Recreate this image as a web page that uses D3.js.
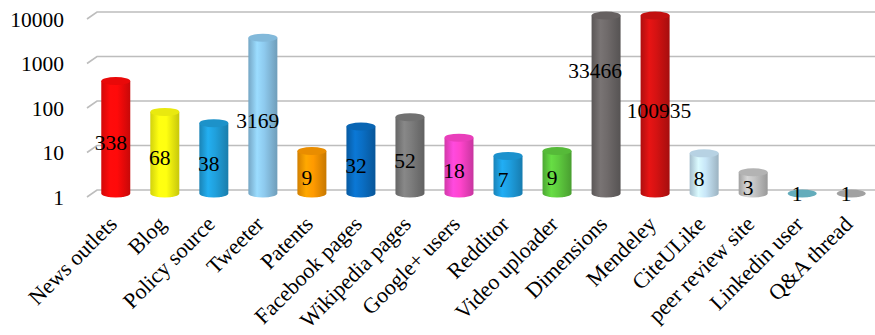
<!DOCTYPE html>
<meta charset="utf-8">
<style>
body { margin: 0; background: #fff; }
text { font-family: "Liberation Serif", "Times New Roman", serif; fill: #000; }
.grid path { stroke: #bdbdbd; stroke-width: 1.6px; fill: none; }
</style>
<body>
<script src="https://cdnjs.cloudflare.com/ajax/libs/d3/7.8.5/d3.min.js"></script>
<script>

var categories = ["News outlets", "Blog", "Policy source", "Tweeter", "Patents",
  "Facebook pages", "Wikipedia pages", "Google+ users", "Redditor", "Video uploader",
  "Dimensions", "Mendeley", "CiteULike", "peer review site", "Linkedin user", "Q&A thread"];

var values = [338, 68, 38, 3169, 9, 32, 52, 18, 7, 9, 33466, 100935, 8, 3, 1, 1];

var colors = ["#ff0a0a", "#ffff10", "#20a0dc", "#8ecaee", "#ff9a00", "#0a6ec4",
  "#7c7c7c", "#ff44cc", "#1e9fe0", "#5ecb3e", "#6f6a6a", "#d41212",
  "#c8e6f8", "#c4c4c4", "#6cbccc", "#b0b0b0"];

var yTicks = [1, 10, 100, 1000, 10000];

var width = 875, height = 335,
    depthX = 10, depthY = 7,
    rx = 14.5, ry = 4;

var svg = d3.select("body").append("svg")
    .attr("width", width)
    .attr("height", height);

var x = d3.scaleBand()
    .domain(categories)
    .range([91.5, 875.5])
    .paddingInner(0.41)
    .paddingOuter(0.2);

// back wall scale
var y = d3.scaleLog()
    .domain([1, 10000])
    .range([190, 12]);

var yMax = y.domain()[1];

// bars sit a little in front of the wall
function yb(v) { return y(Math.min(v, yMax)) + 3.5; }

var grid = svg.append("g").attr("class", "grid");

grid.selectAll("path")
    .data(yTicks)
  .enter().append("path")
    .attr("d", function(d) {
      return "M" + (97 - depthX) + "," + (y(d) + depthY) + "L97," + y(d) + "L" + width + "," + y(d);
    });

svg.append("g").selectAll("text")
    .data(yTicks)
  .enter().append("text")
    .attr("x", 64)
    .attr("y", function(d) { return y(d) + depthY; })
    .attr("dy", "0.35em")
    .attr("text-anchor", "end")
    .style("font-size", "21.5px")
    .text(function(d) { return d; });

var defs = svg.append("defs");

categories.forEach(function(c, i) {
  var base = d3.color(colors[i]);
  var g = defs.append("linearGradient")
      .attr("id", "cyl" + i)
      .attr("x1", "0%").attr("x2", "100%");
  [[0, base.darker(0.55)], [0.3, base.brighter(0.25)], [0.55, base], [1, base.darker(0.7)]]
    .forEach(function(s) {
      g.append("stop").attr("offset", s[0]).attr("stop-color", s[1]);
    });
});

var bars = svg.append("g").selectAll("g")
    .data(categories)
  .enter().append("g");

bars.each(function(c, i) {
  var g = d3.select(this),
      cx = x(c) + x.bandwidth() / 2,
      top = yb(values[i]),
      bot = yb(1),
      l = cx - rx, r = cx + rx;
  if (top < bot - 0.5) {
    g.append("path")
        .attr("d", "M" + l + "," + top + "L" + l + "," + bot +
          "A" + rx + "," + ry + " 0 0 0 " + r + "," + bot +
          "L" + r + "," + top + "Z")
        .attr("fill", "url(#cyl" + i + ")");
  }
  g.append("ellipse")
      .attr("cx", cx)
      .attr("cy", top)
      .attr("rx", rx)
      .attr("ry", ry)
      .attr("fill", d3.color(colors[i]).darker(0.25));
});

// value labels; bars running past the axis get staggered labels
var over = 0;
var labelPos = values.map(function(v) {
  if (v > yMax) {
    var k = over++;
    return { y: y(yMax / Math.pow(10, k + 1)) + 14 - k * 5, dx: k ? 4 : -11 };
  }
  return { y: (yb(v) + yb(1)) / 2 + (v > 1 ? 5 : 0), dx: -5 };
});

svg.append("g").selectAll("text")
    .data(categories)
  .enter().append("text")
    .attr("x", function(c, i) { return x(c) + x.bandwidth() / 2 + labelPos[i].dx; })
    .attr("y", function(c, i) { return labelPos[i].y; })
    .attr("dy", "0.35em")
    .attr("text-anchor", "middle")
    .style("font-size", "21.5px")
    .text(function(c, i) { return values[i]; });

// category labels
svg.append("g").selectAll("text")
    .data(categories)
  .enter().append("text")
    .attr("transform", function(c) {
      return "translate(" + (x(c) + x.bandwidth() / 2 - 3) + ",220) rotate(-45)";
    })
    .attr("dy", "0.35em")
    .attr("text-anchor", "end")
    .style("font-size", "22px")
    .text(function(c) { return c; });

</script>
